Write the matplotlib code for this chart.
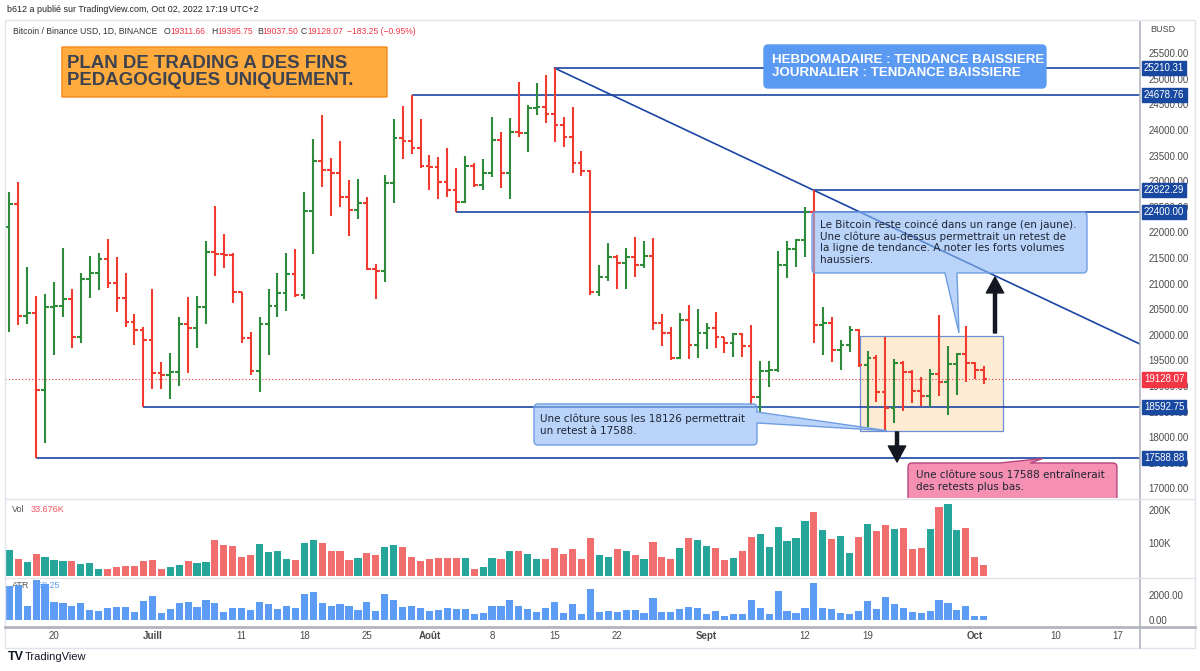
import numpy as np
import pandas as pd
import matplotlib
matplotlib.use('Agg')
import matplotlib.pyplot as plt
from matplotlib.path import Path
from matplotlib.patches import PathPatch, Rectangle
from matplotlib.lines import Line2D

plt.rcParams['font.family'] = ['Liberation Sans', 'DejaVu Sans']

# ---- daily BTC/BUSD bars ----
dates = pd.date_range('2022-06-15', '2022-10-02', freq='D')

opens = [22112, 22562, 20373, 20432, 18921, 20549, 20570, 20693, 19950, 21090, 21214, 21474, 21018, 20725, 20250, 20093,
         19898, 19247, 19214, 19279, 20211, 20139, 20549, 21611, 21572, 21560, 20842, 19930, 19299, 20211, 20569, 20810,
         21188, 20777, 22425, 23396, 23220, 23155, 22699, 22438, 22568, 21285, 21246, 22959, 23851, 23793, 23643,
         23298, 23285, 22992, 22829, 22601, 23298, 22927, 23168, 23806, 23155, 23969, 23949, 24425, 24445, 24314, 24099,
         23858, 23350, 23200, 20829, 21135, 21513, 21396, 21526, 21363, 21539, 20223, 20028, 19539, 20288, 19800,
         20041, 20126, 19963, 19832, 20015, 19780, 18777, 19298, 19311, 21363, 21669, 21852, 22392, 20191, 20223,
         19702, 19800, 20093, 19410, 19539, 18875, 18563, 19442, 19279, 18908, 18804, 19233, 19084, 19429, 19624,
         19442, 19311.66]
highs = [22783, 22979, 21331, 20758, 20797, 21038, 21702, 20888, 21214, 21546, 21604, 21878, 21526, 21201, 20406, 20145,
         20888, 19462, 19651, 20341, 20732, 20758, 21832, 22516, 21969, 21604, 20842, 20048, 20354, 20888, 21201, 21591,
         21670, 22783, 23819, 24294, 23448, 23786, 23024, 23044, 22686, 21383, 23122, 24210, 24470, 24678.76, 24210,
         23513, 23467, 23656, 23252, 23493, 23350, 23428, 24249, 23969, 24242, 24946, 24490, 24913, 25076, 25210.31, 24262,
         24444, 23598, 23220, 21363, 21786, 21558, 21689, 21904, 21839, 21884, 20406, 20158, 20419, 20581, 20497,
         20223, 20451, 19963, 20041, 20028, 20191, 19494, 19494, 21637, 21839, 21865, 22490, 22822.29, 20536, 20341,
         19898, 20178, 20106, 19689, 19605, 19963, 19527, 19494, 19320, 19181, 19325, 20386, 19781, 19637, 20178,
         19475, 19395.75]
lows = [20061, 20191, 20204, 17588.88, 17892, 19605, 20350, 19735, 19846, 20712, 20875, 20921, 20452, 20159, 19800, 18592.75,
        18934, 18934, 18739, 18999, 19260, 19735, 20204, 21149, 21298, 20615, 19846, 19214, 18888, 19605, 20354, 20471,
        20745, 20700, 21572, 22894, 22327, 22503, 21930, 22256, 21260, 20693, 21038, 22581, 23428, 23526, 23252,
        22829, 22647, 22686, 22400, 22581, 22894, 22829, 23090, 22862, 22647, 23858, 23578, 24294, 24145, 23773, 23663,
        23155, 23103, 20777, 20757, 21057, 20888, 20888, 21135, 21298, 20093, 19780, 19507, 19520, 19520, 19539,
        19715, 19734, 19637, 19572, 19572, 18628, 18497, 18986, 19279, 21103, 21330, 21513, 19846, 19605, 19474,
        19312, 19670, 19377, 18204, 18693, 18126, 18270, 18517, 18673, 18608, 18595, 18804, 18432, 18823, 19084,
        19129, 19037.50]
closes = [22562, 20373, 20432, 18921, 20549, 20570, 20693, 19950, 21090, 21214, 21474, 21018, 20725, 20250, 20093, 19898,
          19247, 19214, 19279, 20211, 20139, 20549, 21611, 21572, 21560, 20842, 19930, 19299, 20211, 20569, 20810, 21188,
          20777, 22425, 23396, 23220, 23155, 22699, 22438, 22568, 21285, 21246, 22959, 23851, 23793, 23643, 23298,
          23285, 22992, 22829, 22601, 23298, 22927, 23168, 23806, 23155, 23969, 23949, 24425, 24445, 24314, 24099, 23858,
          23350, 23200, 20829, 21135, 21513, 21396, 21526, 21363, 21539, 20223, 20028, 19539, 20288, 19800, 20041,
          20126, 19963, 19832, 20015, 19780, 18777, 19298, 19311, 21363, 21669, 21852, 22392, 20191, 20223, 19702,
          19800, 20093, 19410, 19539, 18875, 18563, 19442, 19279, 18908, 18804, 19233, 19084, 19429, 19624, 19442,
          19311.66, 19128.07]
volume_k = [78, 52, 41, 66, 58, 48, 45, 45, 36, 39, 22, 22, 26, 29, 29, 44,
            48, 22, 27, 34, 44, 40, 42, 110, 95, 92, 57, 65, 97, 73, 75, 52, 48, 99, 109, 99, 75, 77, 48, 56, 69, 64,
            89, 94, 89, 59, 45,
            52, 56, 54, 56, 56, 22, 26, 56, 50, 75, 77, 67, 52, 52, 84, 66, 81, 52, 115, 65, 57, 81, 77, 65, 50, 103,
            57, 50, 86, 115, 109,
            92, 86, 48, 54, 75, 117, 128, 89, 148, 105, 115, 167, 193, 138, 113, 121, 69, 117, 158, 135, 154, 143, 144,
            82, 84, 141, 208, 217, 138, 146,
            59, 33.676]

tick_dates = ['2022-06-20', '2022-07-01', '2022-07-11', '2022-07-18', '2022-07-25', '2022-08-01', '2022-08-08',
              '2022-08-15', '2022-08-22', '2022-09-01', '2022-09-12', '2022-09-19', '2022-10-01', '2022-10-10',
              '2022-10-17']
tick_labels = ['20', 'Juill', '11', '18', '25', 'Août', '8', '15', '22', 'Sept', '12', '19', 'Oct', '10', '17']
month_labels = ['Juill', 'Août', 'Sept', 'Oct']

level_prices = [25210.31, 24678.76, 22822.29, 22400.00, 18592.75, 17588.88]
level_from = ['2022-08-15', '2022-07-30', '2022-09-13', '2022-08-04', '2022-06-30', '2022-06-18']
trend_a = ('2022-08-15', 25210.31)
trend_b = ('2022-09-13', 22822.29)
last_price = 19128.07
price_ticks = list(range(17000, 25501, 500))

GREEN, RED = '#2e8b3a', '#f23b2f'
VOL_UP, VOL_DN = '#26a69a', '#f06e6e'
ATR_COL = '#5d9cf5'
NAVY = '#1b45a3'
TAG = '#1848a0'
LABEL = '#4a4a4a'

ref = pd.Timestamp('2022-06-20')
def day(s):
    return (pd.Timestamp(s) - ref).days

x = np.asarray((dates - ref).days, dtype=float)
o, h, l, c = (np.array(v, dtype=float) for v in (opens, highs, lows, closes))
prev_c = np.r_[o[0], c[:-1]]
tr = np.maximum(h, prev_c) - np.minimum(l, prev_c)
up = c > o

W, H = 1200, 671
fig = plt.figure(figsize=(W / 100, H / 100), dpi=100)
fig.patch.set_facecolor('white')

def rect(x0, y0, x1, y1):
    return [x0 / W, 1 - y1 / H, (x1 - x0) / W, (y1 - y0) / H]

def fx(px):
    return px / W

def fy(py):
    return 1 - py / H

ax = fig.add_axes(rect(5, 21, 1140, 498))
axv = fig.add_axes(rect(5, 499, 1140, 577), sharex=ax)
axa = fig.add_axes(rect(5, 578, 1140, 627), sharex=ax)

for a in (ax, axv, axa):
    for s in a.spines.values():
        s.set_visible(False)
    a.spines['right'].set_visible(True)
    a.spines['right'].set_color('#b2b5be')
    a.spines['right'].set_linewidth(1.2)
    a.yaxis.tick_right()
    a.tick_params(axis='y', length=0, pad=6, labelsize=7, labelcolor=LABEL)
    a.tick_params(axis='x', length=0)
ax.tick_params(labelbottom=False)
axv.tick_params(labelbottom=False)

ax.set_xlim(-5.48, 121.48)
ax.set_ylim(16810, 26131)
axv.set_ylim(-3000, 233000)
axa.set_ylim(-560, 3360)

ax.set_yticks(price_ticks)
ax.set_yticklabels([f'{v:.2f}' for v in price_ticks])
axv.set_yticks([100000, 200000])
axv.set_yticklabels(['100K', '200K'])
axa.set_yticks([0, 2000])
axa.set_yticklabels(['0.00', '2000.00'])
axa.set_xticks([day(d) for d in tick_dates])
axa.set_xticklabels(tick_labels)
axa.tick_params(axis='x', pad=3, labelsize=7, labelcolor=LABEL)
for t in axa.get_xticklabels():
    if t.get_text() in month_labels:
        t.set_fontweight('bold')

# ---- range box (drawn under the bars) ----
ax.add_patch(Rectangle((90.16, 18126), 106.15 - 90.16, 19976 - 18126, fc='#fdebd3', ec='#6b8fd6', lw=0.9, zorder=1))

# ---- OHLC bars ----
col = np.where(up, GREEN, RED)
ax.vlines(x, l, h, colors=col, lw=1.5, zorder=3)
ax.hlines(o, x - 0.42, x, colors=col, lw=1.5, zorder=3)
ax.hlines(c, x, x + 0.42, colors=col, lw=1.5, zorder=3)

# ---- levels, trendline, last price ----
xr = ax.get_xlim()[1]
for p, d0 in zip(level_prices, level_from):
    ax.plot([day(d0), xr], [p, p], color=NAVY, lw=1.2, zorder=2, solid_capstyle='butt')
ta, tb = (day(trend_a[0]), trend_a[1]), (day(trend_b[0]), trend_b[1])
slope = (tb[1] - ta[1]) / (tb[0] - ta[0])
ax.plot([ta[0], xr], [ta[1], ta[1] + slope * (xr - ta[0])], color=NAVY, lw=1.2, zorder=2)
ax.axhline(last_price, color='#f23645', lw=0.8, ls=(0, (1, 2)), zorder=2)

def tag(a, y, txt, fc):
    a.text(1.0035, y, txt, transform=a.get_yaxis_transform(), ha='left', va='center', fontsize=7,
           color='white', clip_on=False, zorder=10,
           bbox=dict(boxstyle='square,pad=0.22', fc=fc, ec=fc))

for p in level_prices:
    tag(ax, p, f'{p:.2f}', TAG)
tag(ax, last_price, f'{last_price:.2f}', '#f23645')

# ---- callouts ----
def callout(a, x0, x1, y0, y1, side=None, base=None, tip=None, rx=0.45, ry=80, **kw):
    v, cd = [], []
    def mv(p):
        v.append(p); cd.append(Path.MOVETO)
    def ln(p):
        v.append(p); cd.append(Path.LINETO)
    def cv(p1, p2):
        v.extend([p1, p2]); cd.extend([Path.CURVE3, Path.CURVE3])
    mv((x0 + rx, y0))
    if side == 'bottom':
        ln((base[0], y0)); ln(tip); ln((base[1], y0))
    ln((x1 - rx, y0)); cv((x1, y0), (x1, y0 + ry))
    if side == 'right':
        ln((x1, base[0])); ln(tip); ln((x1, base[1]))
    ln((x1, y1 - ry)); cv((x1, y1), (x1 - rx, y1))
    if side == 'top':
        ln((base[1], y1)); ln(tip); ln((base[0], y1))
    ln((x0 + rx, y1)); cv((x0, y1), (x0, y1 - ry))
    ln((x0, y0 + ry)); cv((x0, y0), (x0 + rx, y0))
    v.append((x0 + rx, y0)); cd.append(Path.CLOSEPOLY)
    a.add_patch(PathPatch(Path(v, cd), **kw))

txt_font = ['DejaVu Sans']

callout(ax, 0.89, 37.25, 24646, 25623, rx=0.05, ry=10, fc='#ffab3d', ec='#f08a1c', lw=1.0, zorder=6)
ax.text(1.45, 25135, 'PLAN DE TRADING A DES FINS\nPEDAGOGIQUES UNIQUEMENT.', ha='left', va='center',
        fontsize=13.4, fontweight='bold', color='#3c4250', linespacing=1.05, zorder=7)

callout(ax, 79.42, 110.96, 24822, 25662, fc='#5a9af2', ec='#5a9af2', lw=1.0, zorder=6)
ax.text(80.31, 25242, 'HEBDOMADAIRE : TENDANCE BAISSIERE\nJOURNALIER : TENDANCE BAISSIERE', ha='left', va='center',
        fontsize=9.6, fontweight='bold', color='white', linespacing=1.1, zorder=7)

blue_box = dict(fc=(0.55, 0.72, 0.96, 0.6), ec='#6f9de3', lw=1.0, zorder=6)
callout(ax, 84.79, 115.55, 21207, 22399, side='bottom', base=(99.66, 101.01), tip=(101.23, 20035), **blue_box)
ax.text(85.68, 21813, 'Le Bitcoin reste coincé dans un range (en jaune).\nUne clôture au-dessus permettrait un retest de\n'
        'la ligne de tendance. A noter les forts volumes\nhaussiers.', ha='left', va='center', fontsize=7.5,
        color='#1e2433', family=txt_font, linespacing=1.19, zorder=7)

callout(ax, 53.69, 78.64, 17846, 18647, side='right', base=(18276, 18491), tip=(93.18, 18126), **blue_box)
ax.text(54.36, 18247, 'Une clôture sous les 18126 permettrait\nun retest à 17588.', ha='left', va='center', fontsize=7.5,
        color='#1e2433', family=txt_font, linespacing=1.25, zorder=7)

callout(ax, 95.53, 118.90, 16674, 17494, side='top', base=(105.8, 109.2), tip=(110.6, 17582),
        fc='#f590b2', ec='#b5467f', lw=1.0, zorder=6)
ax.text(96.42, 17143, 'Une clôture sous 17588 entraînerait\ndes retests plus bas.', ha='left', va='center', fontsize=7.5,
        color='#1e2433', family=txt_font, linespacing=1.17, zorder=7)

arrow = dict(facecolor='#131722', edgecolor='#131722', width=2.2, headwidth=12.5, headlength=11.5, shrink=0)
ax.annotate('', xy=(105.26, 21129), xytext=(105.26, 20035), arrowprops=arrow, zorder=8)
ax.annotate('', xy=(94.30, 17514), xytext=(94.30, 18100), arrowprops=arrow, zorder=8)

# ---- volume and ATR panes ----
vol = np.array(volume_k) * 1000
axv.bar(x, vol, width=0.8, color=np.where(up, VOL_UP, VOL_DN), zorder=2)
axa.bar(x, tr, width=0.8, color=ATR_COL, zorder=2)

axv.text(fx(12), fy(510), 'Vol', transform=fig.transFigure, fontsize=6.5, color='#555555', va='center')
axv.text(fx(31), fy(510), f'{volume_k[-1]:.3f}K', transform=fig.transFigure, fontsize=6.5, color='#f7525f', va='center')
axa.text(fx(12), fy(586), 'ATR', transform=fig.transFigure, fontsize=6.5, color='#555555', va='center', zorder=1)
axa.text(fx(33), fy(586), f'{tr[-1]:.2f}', transform=fig.transFigure, fontsize=6.5, color=ATR_COL, va='center', zorder=1)

# ---- frame, separators and header texts ----
fig.add_artist(Rectangle((fx(5), fy(648)), 1190 / W, 628 / H, transform=fig.transFigure, fill=False,
                         ec='#e0e3eb', lw=1.0))
for yy, cc, ww in [(498.5, '#e0e3eb', 1.0), (577.5, '#e0e3eb', 1.0), (627, '#b2b5be', 2.0)]:
    fig.add_artist(Line2D([fx(5), fx(1195)], [fy(yy), fy(yy)], transform=fig.transFigure, color=cc, lw=ww))
fig.add_artist(Line2D([fx(1140), fx(1140)], [fy(627), fy(648)], transform=fig.transFigure, color='#b2b5be', lw=1.2))

fig.text(fx(7), fy(10), 'b612 a publié sur TradingView.com, Oct 02, 2022 17:19 UTC+2', fontsize=6.4,
         color='#222222', va='center')
fig.text(fx(1150), fy(30), 'BUSD', fontsize=6.5, color=LABEL, va='center')
head = [(13, 'Bitcoin / Binance USD, 1D, BINANCE', '#333333'), (164, 'O', '#333333'), (170, '19311.66', '#f23645'),
        (211, 'H', '#333333'), (217, '19395.75', '#f23645'), (257, 'B', '#333333'), (262, '19037.50', '#f23645'),
        (301, 'C', '#333333'), (307, '19128.07', '#f23645'), (347, '\u2212183.25 (\u22120.95%)', '#f23645')]
for px, s, cc in head:
    fig.text(fx(px), fy(31), s, fontsize=6.2, color=cc, va='center')

fig.text(fx(8), fy(657), 'TV', fontsize=9, fontweight='bold', color='#131722', va='center')
fig.text(fx(25), fy(657), 'TradingView', fontsize=8, color='#131722', va='center')

fig.savefig('out.png', dpi=100)
